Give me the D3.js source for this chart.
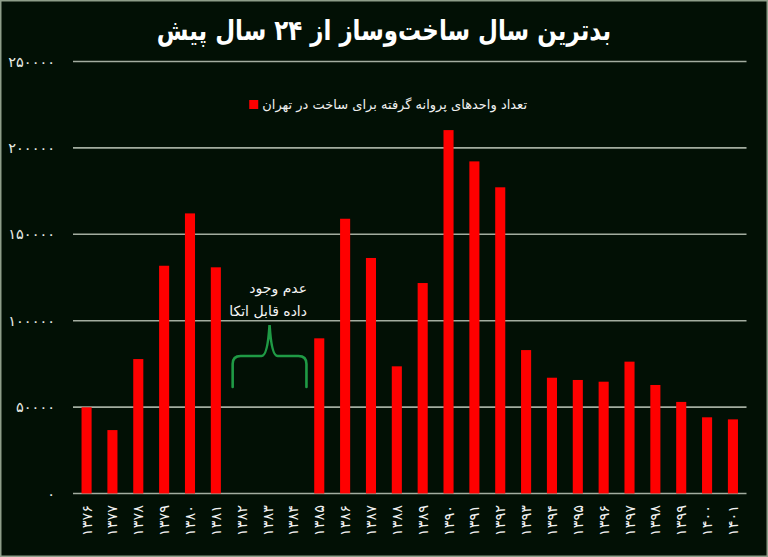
<!DOCTYPE html>
<html><head><meta charset="utf-8">
<script src="https://cdn.jsdelivr.net/npm/d3@7"></script>
<style>
html,body{margin:0;padding:0;background:#021005;}
svg{display:block;}
text{font-family:"DejaVu Sans",sans-serif;}
</style></head>
<body>
<script>
const years = ["۱۳۷۶","۱۳۷۷","۱۳۷۸","۱۳۷۹","۱۳۸۰","۱۳۸۱","۱۳۸۲","۱۳۸۳","۱۳۸۴","۱۳۸۵","۱۳۸۶","۱۳۸۷","۱۳۸۸","۱۳۸۹","۱۳۹۰","۱۳۹۱","۱۳۹۲","۱۳۹۳","۱۳۹۴","۱۳۹۵","۱۳۹۶","۱۳۹۷","۱۳۹۸","۱۳۹۹","۱۴۰۰","۱۴۰۱"];
const permits = [49900,36700,77800,131800,162100,130900,null,null,null,89800,159000,136300,73600,121800,210300,192200,177200,83000,67000,65700,64700,76300,62800,53000,44100,42900];
const yTicks = [0,50000,100000,150000,200000,250000];
const yTickLabels = ["۰","۵۰۰۰۰","۱۰۰۰۰۰","۱۵۰۰۰۰","۲۰۰۰۰۰","۲۵۰۰۰۰"];
const titleText = "بدترین سال ساخت‌وساز از ۲۴ سال پیش";
const legendText = "تعداد واحدهای پروانه گرفته برای ساخت در تهران";
const noteLines = ["عدم وجود","داده قابل اتکا"];
const gapYears = ["۱۳۸۲","۱۳۸۴"];

const W = 768, H = 557;
const svg = d3.select("body").append("svg").attr("width", W).attr("height", H);
svg.append("rect").attr("x",0.75).attr("y",0.75).attr("width",W-1.5).attr("height",H-1.5)
  .attr("fill","#021005").attr("stroke","#8e9e8a").attr("stroke-width",1.5);

const x = d3.scaleBand().domain(years).range([73, 746.5]).paddingInner(0.61).paddingOuter(0.33);
const y = d3.scaleLinear().domain([0, 250000]).range([493.5, 61.5]);

// gridlines
svg.append("g").selectAll("line").data(yTicks).join("line")
  .attr("x1",73).attr("x2",746.5)
  .attr("y1",d=>y(d)).attr("y2",d=>y(d))
  .attr("stroke","#a3ada0").attr("stroke-width",1.6);

// y labels
svg.append("g").selectAll("text").data(yTicks).join("text")
  .attr("x",55).attr("y",d=>y(d)).attr("dy","0.35em")
  .attr("text-anchor","end").attr("fill","#e8ece6").attr("font-size",14.5)
  .text((d,i)=>yTickLabels[i]);

// bars
svg.append("g").selectAll("rect").data(years.map((c,i)=>({c,v:permits[i]})).filter(d=>d.v!=null)).join("rect")
  .attr("x",d=>x(d.c)).attr("width",x.bandwidth())
  .attr("y",d=>y(d.v)).attr("height",d=>y(0)-y(d.v))
  .attr("fill","#ff0000");

// x labels
svg.append("g").selectAll("text").data(years).join("text")
  .attr("transform",d=>`translate(${x(d)+x.bandwidth()/2+5},505) rotate(-90)`)
  .attr("text-anchor","end").attr("fill","#f2f2f2").attr("font-size",14.5)
  .text(d=>d);

// title
svg.append("text").attr("transform","translate(384,40) scale(0.82,1)").attr("text-anchor","middle")
  .attr("fill","#ffffff").attr("font-size",28).attr("font-weight","bold")
  .text(titleText);

// legend
const lt = svg.append("text").attr("x",527).attr("y",104).attr("dy","0.35em").attr("text-anchor","end")
  .attr("fill","#f0f0f0").attr("font-size",13).text(legendText);
const lw = lt.node().getComputedTextLength();
svg.append("rect").attr("x",527-lw-13).attr("y",100).attr("width",9).attr("height",9).attr("fill","#ff0000");

// annotation
const xl = x(gapYears[0]) - 4, xr = x(gapYears[1]) + x.bandwidth() + 8;
const xm = (xl + xr) / 2;
svg.append("g").selectAll("text").data(noteLines).join("text")
  .attr("x",307).attr("y",(d,i)=>288+i*23).attr("dy","0.35em")
  .attr("text-anchor","end").attr("fill","#f4f4f4").attr("font-size",14)
  .text(d=>d);
const yb = 356, yt = 325, ye = 387;
const brace = `M${xl},${ye} L${xl},${yb+8} Q${xl},${yb} ${xl+8},${yb} L${xm-8},${yb} Q${xm-2},${yb} ${xm},${yt} Q${xm+2},${yb} ${xm+8},${yb} L${xr-8},${yb} Q${xr},${yb} ${xr},${yb+8} L${xr},${ye}`;
svg.append("path").attr("d",brace).attr("fill","none").attr("stroke","#1f9a45").attr("stroke-width",2.6).attr("stroke-linecap","round");
</script>
</body></html>
